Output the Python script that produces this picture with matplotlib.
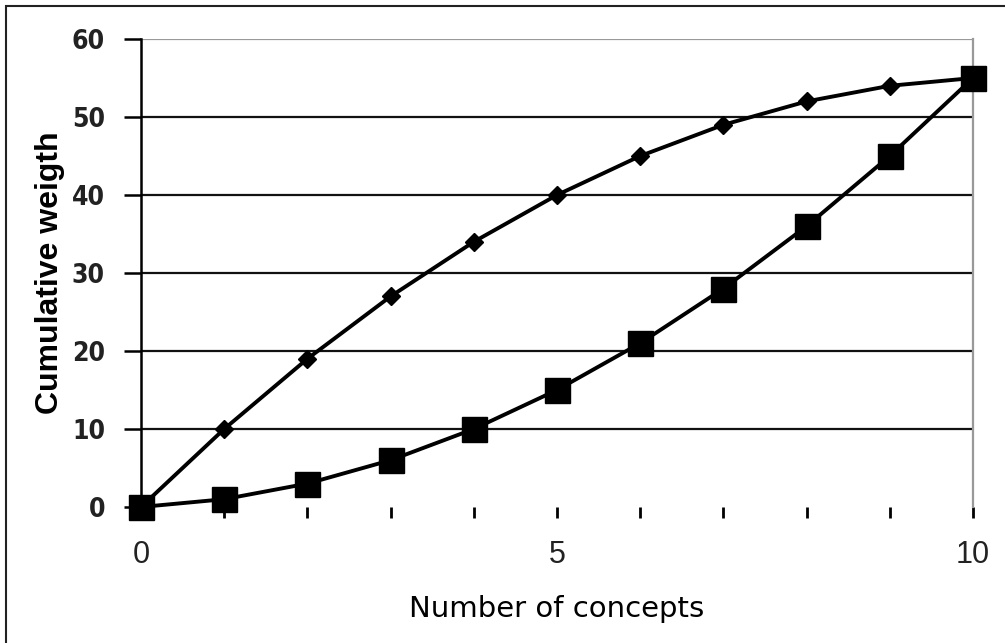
import numpy as np
import matplotlib
matplotlib.use("Agg")
from matplotlib import pyplot as plt
from matplotlib.patches import Rectangle

concepts = [0, 1, 2, 3, 4, 5, 6, 7, 8, 9, 10]
weight_desc = [0, 10, 19, 27, 34, 40, 45, 49, 52, 54, 55]
weight_asc = [0, 1, 3, 6, 10, 15, 21, 28, 36, 45, 55]

fig = plt.figure(figsize=(10.05, 6.43), dpi=100)
ax = fig.add_axes([141 / 1005, 1 - 507 / 643, 832 / 1005, 468 / 643])

# outer frame (only left/top edges fall inside the image)
fig.patches.append(Rectangle((6 / 1005, -0.1), 1.2, 1 - 6 / 643 + 0.1,
                             transform=fig.transFigure, fill=False,
                             edgecolor="#222222", linewidth=1.5))

for yv in range(10, 60, 10):
    ax.axhline(yv, color="#111111", linewidth=1.6, zorder=1)
ax.axhline(60, color="#999999", linewidth=1.6, zorder=1)

ax.plot(concepts, weight_desc, color="black", linewidth=2.8,
        marker="D", markersize=9.5, zorder=3, clip_on=False)
ax.plot(concepts, weight_asc, color="black", linewidth=2.8,
        marker="s", markersize=18, zorder=3, clip_on=False)

ax.set_xlim(0, 10)
ax.set_ylim(0, 60)
ax.spines["top"].set_visible(False)
ax.spines["bottom"].set_visible(False)
ax.spines["right"].set_color("#999999")
ax.spines["right"].set_linewidth(1.6)
ax.spines["left"].set_linewidth(1.8)
ax.spines["left"].set_bounds(-1.3, 60)

ax.set_yticks(range(0, 61, 10))
ax.set_xticks(concepts)
ax.set_xticklabels(["0", "", "", "", "", "5", "", "", "", "", "10"])
ax.tick_params(axis="y", direction="out", length=12, width=1.8, pad=14)
ax.tick_params(axis="x", direction="out", length=8, width=2, pad=16)
for lab in ax.get_yticklabels():
    lab.set_family(["DejaVu Sans", "Liberation Sans"])
    lab.set_fontstretch("condensed")
    lab.set_fontweight("bold")
    lab.set_fontsize(19)
    lab.set_color("#222222")
for lab in ax.get_xticklabels():
    lab.set_family(["Liberation Sans", "DejaVu Sans"])
    lab.set_fontsize(22)
    lab.set_color("#222222")

ax.set_xlabel("Number of concepts", family=["DejaVu Sans"],
              fontsize=21, labelpad=18)
ax.set_ylabel("Cumulative weigth", family=["Liberation Sans", "DejaVu Sans"],
              fontsize=23, fontweight="bold", labelpad=5)

fig.savefig("out.png", dpi=100)
